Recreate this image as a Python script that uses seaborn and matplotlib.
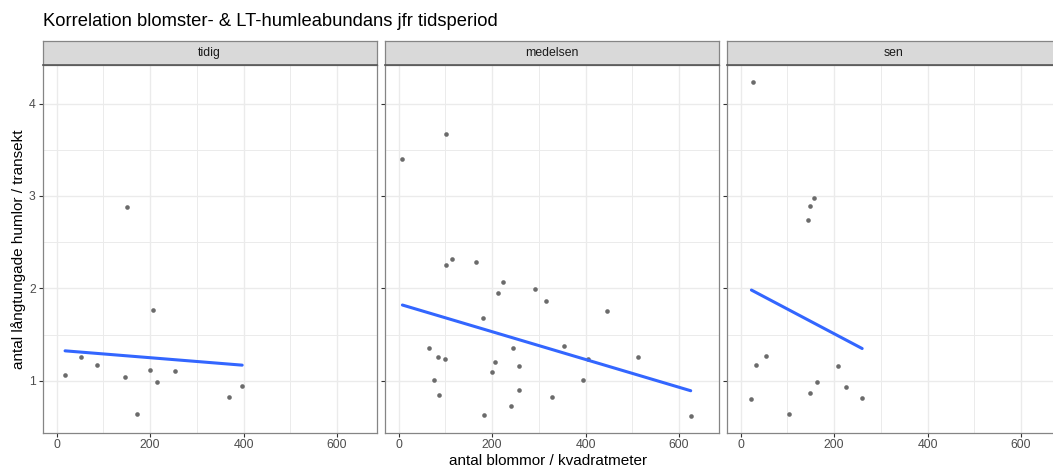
import numpy as np
import pandas as pd
import matplotlib
matplotlib.use("Agg")
import matplotlib.pyplot as plt
import seaborn as sns

# Flower density (per m2) and long-tongued bumblebee counts per transect, by period
periods = ["tidig", "medelsen", "sen"]

tidig_x = [17.9, 51.4, 87.0, 145.7, 150.7, 172.9, 200.7, 205.7, 214.3, 252.9, 367.9, 397.0]
tidig_y = [1.061, 1.255, 1.173, 1.043, 2.878, 0.644, 1.115, 1.763, 0.982, 1.104, 0.820, 0.942]

medelsen_x = [7.9, 101.1, 101.1, 114.0, 165.6, 179.9, 222.9, 211.5, 292.5, 314.7,
              445.9, 63.8, 83.2, 98.2, 75.3, 86.0, 205.7, 200.0, 243.7, 258.1,
              256.6, 239.4, 182.1, 329.0, 354.8, 393.5, 404.3, 513.3, 625.1]
medelsen_y = [3.399, 3.676, 2.252, 2.320, 2.284, 1.683, 2.065, 1.950, 1.993, 1.860,
              1.755, 1.353, 1.259, 1.237, 1.007, 0.849, 1.198, 1.094, 1.353, 1.158,
              0.899, 0.723, 0.633, 0.824, 1.374, 1.007, 1.237, 1.259, 0.619]

sen_x = [27.1, 157.9, 147.9, 143.6, 54.3, 33.6, 209.3, 164.3, 149.3, 225.0, 22.9, 260.0, 104.3]
sen_y = [4.237, 2.975, 2.896, 2.745, 1.266, 1.169, 1.155, 0.982, 0.863, 0.935, 0.806, 0.817, 0.644]

# Fitted linear trend per period, evaluated at the smallest and largest flower density
trend_tidig = [1.324, 1.169]
trend_medelsen = [1.820, 0.892]
trend_sen = [1.982, 1.349]

x_ticks = [0, 200, 400, 600]
y_ticks = [1, 2, 3, 4]

points = pd.concat([
    pd.DataFrame({"blommor": tidig_x, "humlor": tidig_y, "period": "tidig"}),
    pd.DataFrame({"blommor": medelsen_x, "humlor": medelsen_y, "period": "medelsen"}),
    pd.DataFrame({"blommor": sen_x, "humlor": sen_y, "period": "sen"}),
], ignore_index=True)

trend_rows = []
for per, xs, ty in [("tidig", tidig_x, trend_tidig),
                    ("medelsen", medelsen_x, trend_medelsen),
                    ("sen", sen_x, trend_sen)]:
    trend_rows.append(pd.DataFrame({"blommor": [min(xs), max(xs)], "humlor": ty,
                                    "period": per}))
trends = pd.concat(trend_rows, ignore_index=True)

sns.set_theme(style="white")
plt.rcParams["font.family"] = ["Liberation Sans", "DejaVu Sans"]

W, H = 1053, 468
fig = plt.figure(figsize=(W / 100, H / 100), dpi=100)

panel_left = [42.7, 384.7, 726.7]
panel_w = 334.0
panel_top, panel_bottom = 65.0, 432.5
strip_top = 41.0

grid_col = "#EBEBEB"
frame_col = "#858585"

for i, (per, left) in enumerate(zip(periods, panel_left)):
    ax = fig.add_axes([left / W, 1 - panel_bottom / H, panel_w / W,
                       (panel_bottom - panel_top) / H])
    sns.scatterplot(data=points[points["period"] == per], x="blommor", y="humlor",
                    ax=ax, color="#6B6B6B", s=11, linewidth=0, zorder=3)
    sns.lineplot(data=trends[trends["period"] == per], x="blommor", y="humlor",
                 ax=ax, color="#3366FF", linewidth=2.2, zorder=4)
    ax.set_xlim(-30, 685)
    ax.set_ylim(0.44, 4.418)
    ax.set_xticks(x_ticks)
    ax.set_xticks([100, 300, 500], minor=True)
    ax.set_yticks(y_ticks)
    ax.set_yticks([1.5, 2.5, 3.5], minor=True)
    ax.grid(True, which="major", color=grid_col, linewidth=1.0)
    ax.grid(True, which="minor", color=grid_col, linewidth=0.7)
    ax.set_axisbelow(True)
    for sp in ax.spines.values():
        sp.set_color(frame_col)
        sp.set_linewidth(0.9)
    ax.tick_params(axis="both", which="major", length=3, width=0.8, color="#333333",
                   labelsize=8.8, labelcolor="#4D4D4D", pad=2, direction="out")
    ax.tick_params(axis="both", which="minor", length=0)
    ax.tick_params(axis="x", bottom=True)
    ax.tick_params(axis="y", left=True)
    if i > 0:
        ax.set_yticklabels([])
    ax.set_xlabel("")
    ax.set_ylabel("")

    # facet strip
    sax = fig.add_axes([left / W, 1 - panel_top / H, panel_w / W,
                        (panel_top - strip_top) / H])
    sax.set_facecolor("#D9D9D9")
    sax.set_xticks([])
    sax.set_yticks([])
    for name, sp in sax.spines.items():
        sp.set_color("#555555" if name == "bottom" else frame_col)
        sp.set_linewidth(1.2 if name == "bottom" else 0.9)
    sax.text(0.5, 0.5, per, ha="center", va="center", fontsize=8.8,
             color="#1A1A1A", transform=sax.transAxes)

fig.text(42.7 / W, 1 - 22 / H, "Korrelation blomster- & LT-humleabundans jfr tidsperiod",
         ha="left", va="center", fontsize=13.2, color="black")
fig.text(548 / W, 1 - 461 / H, "antal blommor / kvadratmeter",
         ha="center", va="center", fontsize=11, color="black")
fig.text(19 / W, 1 - 249 / H, "antal långtungade humlor / transekt",
         ha="center", va="center", rotation=90, fontsize=11, color="black")

fig.savefig("out.png", dpi=100, facecolor="white")
